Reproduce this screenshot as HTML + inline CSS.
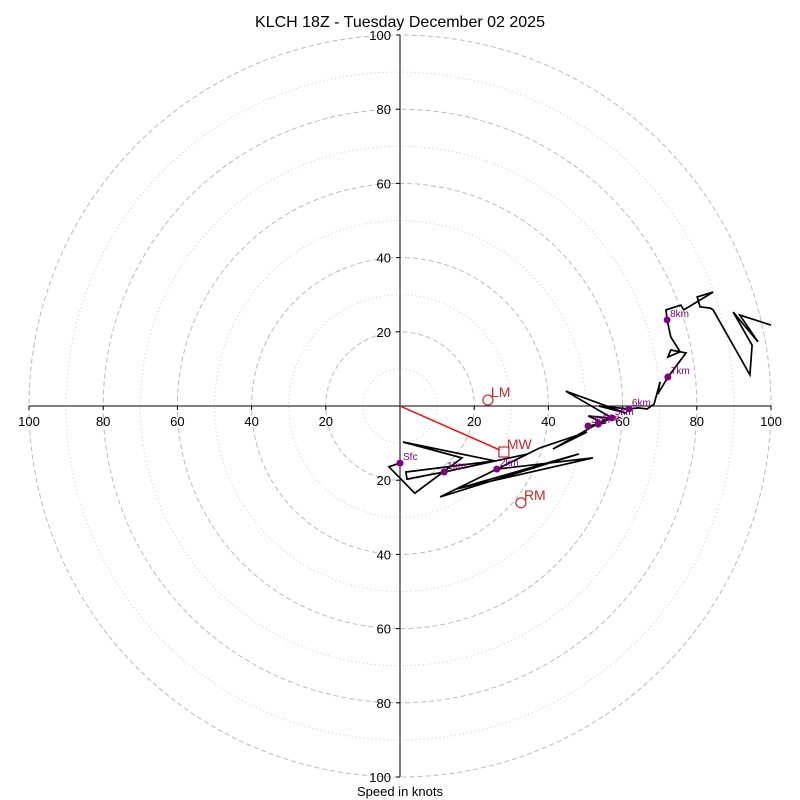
<!DOCTYPE html>
<html><head><meta charset="utf-8"><style>
body{margin:0;background:#fff;}
svg{display:block;font-family:"Liberation Sans",sans-serif;}
</style></head><body>
<svg id="chart" width="800" height="800">
<text x="400" y="27" font-size="16" text-anchor="middle">KLCH 18Z - Tuesday December 02 2025</text>
<g id="grid"></g>
<g id="axes"></g>
<g id="trace"></g>
<g id="marks"></g>
<g id="motion"></g>
<text x="400" y="796" font-size="13" text-anchor="middle">Speed in knots</text>
</svg>
<script>
const uWind=[0,-3.0,4.0,16.7,0.8,25.6,1.6,1.9,11.9,34.5,10.8,48.2,15.1,52.0,26.1,37.7,50.4,41.2,56.1,50.7,55.0,50.7,53.4,57.1,44.7,60.9,53.6,61.7,64.2,66.6,68.5,70.1,69.5,72.2,77.1,73.0,72.2,75.5,73.0,72.0,71.7,75.7,76.5,84.4,80.1,80.9,83.6,84.4,94.3,94.9,89.8,96.5,91.6,100];
const vWind=[-15.4,-16.4,-23.5,-14.0,-9.7,-14.8,-17.8,-19.7,-17.8,-12.9,-24.5,-12.9,-22.4,-14.0,-17.0,-11.3,-7.0,-11.6,-3.2,-2.7,-4.6,-5.4,-4.9,-3.2,4.0,-1.9,0,-0.8,-0.5,-0.8,0.5,6.5,3.2,7.8,14.3,15.1,13.2,14.6,18.6,23.2,25.9,27.2,25.9,30.7,29.4,26.7,26.4,25.9,8.4,16.4,25.3,17.3,24.5,21.8];
const hLabels=["Sfc","1km","2km","3km","4km","5km","6km","7km","8km"];
const hU=[0,11.9,26.1,50.7,53.4,57.1,61.7,72.2,72.0];
const hV=[-15.4,-17.8,-17.0,-5.4,-4.9,-3.2,-0.8,7.8,23.2];
const smLabels=["LM","MW","RM"];
const smU=[23.7,28.0,32.6];
const smV=[1.6,-12.4,-26.1];
const ticks=[20,40,60,80,100];

const NS="http://www.w3.org/2000/svg";
const cx=400,cy=406,k=3.71;
const sx=u=>cx+u*k, sy=v=>cy-v*k;
function mk(tag,attrs,parent){const e=document.createElementNS(NS,tag);for(const a in attrs)e.setAttribute(a,attrs[a]);document.getElementById(parent).appendChild(e);return e;}

for(let r=10;r<=100;r+=10){
  const c=mk('circle',{cx:cx,cy:cy,r:r*k,fill:'none',stroke:r%20===0?'#bbb':'#ccc','stroke-width':1,'stroke-dasharray':r%20===0?'5,3':'1,3'},'grid');
  
  
}
let l=mk('line',{x1:sx(-100),y1:cy,x2:sx(100),y2:cy,stroke:'#000'},'axes');


l=mk('line',{x1:cx,y1:sy(100),x2:cx,y2:sy(-100),stroke:'#000'},'axes');


ticks.forEach(t=>{
  [t,-t].forEach(s=>{
    mk('line',{x1:sx(s),y1:cy,x2:sx(s),y2:cy+4,stroke:'#000'},'axes');
    let tx=mk('text',{x:sx(s),y:cy+20,'font-size':13,'text-anchor':'middle'},'axes');
    tx.textContent=t;
    
    
    mk('line',{x1:cx-4,y1:sy(s),x2:cx,y2:sy(s),stroke:'#000'},'axes');
    let ty=mk('text',{x:cx-9,y:sy(s)+5,'font-size':13,'text-anchor':'end'},'axes');
    ty.textContent=t;
    
    
  });
});
const pts=uWind.map((u,i)=>sx(u).toFixed(1)+','+sy(vWind[i]).toFixed(1)).join(' ');
const pl=mk('polyline',{points:pts,fill:'none',stroke:'#000','stroke-width':1.7,'stroke-linejoin':'miter'},'trace');


hLabels.forEach((lab,i)=>{
  const d=mk('circle',{cx:sx(hU[i]),cy:sy(hV[i]),r:3.5,fill:'purple'},'marks');
  
  
  const t=mk('text',{x:sx(hU[i])+3,y:sy(hV[i])-3,'font-size':10,fill:'purple'},'marks');
  t.textContent=lab;
  
  
});
const ar=mk('line',{x1:cx,y1:cy,x2:sx(smU[1])-4,y2:sy(smV[1])-2,stroke:'red','stroke-width':1.5},'motion');


smLabels.forEach((lab,i)=>{
  let m;
  if(lab==='MW') m=mk('rect',{x:sx(smU[i])-5,y:sy(smV[i])-5,width:10,height:10,fill:'none',stroke:'#c62828','stroke-width':1.2},'motion');
  else m=mk('circle',{cx:sx(smU[i]),cy:sy(smV[i]),r:5,fill:'none',stroke:'#c62828','stroke-width':1.2},'motion');
  
  
  const t=mk('text',{x:sx(smU[i])+3,y:sy(smV[i])-3,'font-size':14,fill:'#c62828'},'motion');
  t.textContent=lab;
  
  
});
</script>
</body></html>
